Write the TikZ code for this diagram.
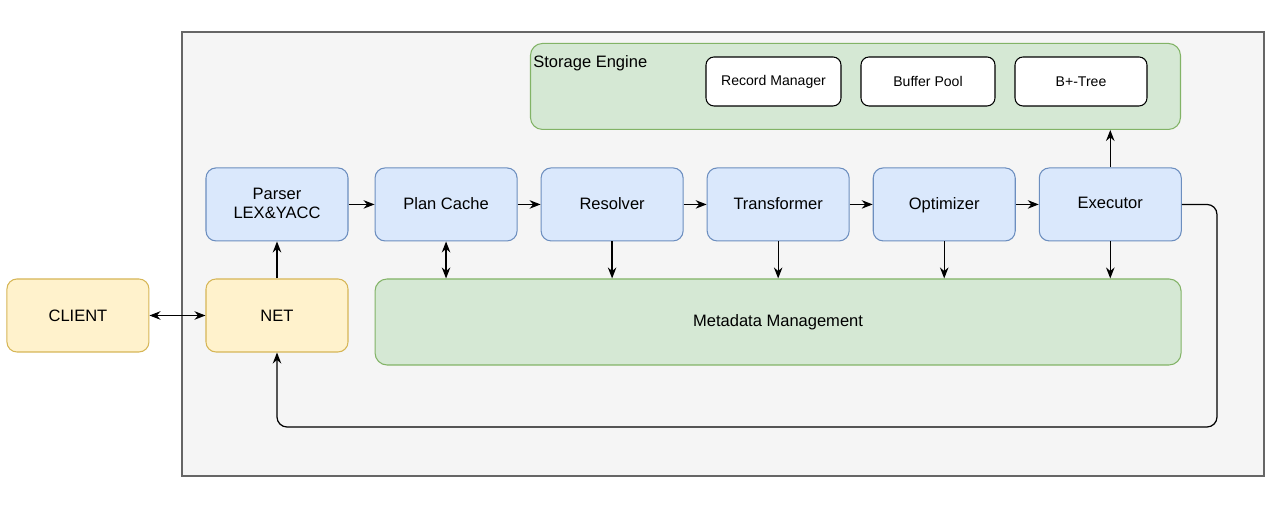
\documentclass[tikz,border=0pt]{standalone}
\usepackage{fontspec}
\setmainfont{Liberation Sans}
\usetikzlibrary{positioning, arrows.meta}
\definecolor{stagefill}{HTML}{DAE8FC}
\definecolor{stageline}{HTML}{6C8EBF}
\definecolor{ionfill}{HTML}{FFF2CC}
\definecolor{ionline}{HTML}{D6B656}
\definecolor{greenfill}{HTML}{D5E8D4}
\definecolor{greenline}{HTML}{82B366}
\definecolor{outerfill}{HTML}{F5F5F5}
\definecolor{outerline}{HTML}{666666}

\begin{document}
\begin{tikzpicture}[
    every node/.style={align=center, font=\fontsize{9.4}{11}\selectfont},
    box/.style={draw, line width=0.6pt, rounded corners=0.2cm, minimum width=2.84cm, minimum height=1.46cm},
    stage/.style={box, fill=stagefill, draw=stageline, text depth=0.3ex},
    io/.style={box, fill=ionfill, draw=ionline},
    area/.style={draw=greenline, fill=greenfill, line width=0.6pt, rounded corners=0.24cm, minimum height=1.72cm},
    part/.style={draw=black, fill=white, line width=0.6pt, rounded corners=0.16cm, minimum width=2.68cm, minimum height=0.98cm, font=\fontsize{8}{9}\selectfont},
    link/.style={line width=0.7pt, -{Stealth[length=2.2mm, width=1.7mm]}},
    both/.style={line width=0.7pt, {Stealth[length=2.2mm, width=1.7mm]}-{Stealth[length=2.2mm, width=1.7mm]}},
    node distance=0.46cm
]
\useasboundingbox (0,0) rectangle (25.42,10.26);
\draw[fill=outerfill, draw=outerline, line width=0.8pt] (3.64,0.74) rectangle (25.28,9.62);

\node[io] (net) at (5.54,3.95) {NET};
\node[io, left=1.12cm of net] (client) {CLIENT};
\node[stage, above=0.74cm of net] (parser) {Parser\\LEX\&YACC};
\node[stage, right=0.52cm of parser] (plancache) {Plan Cache};
\node[stage, right=of plancache] (resolver) {Resolver};
\node[stage, right=of resolver] (transformer) {Transformer};
\node[stage, right=of transformer] (optimizer) {Optimizer};
\node[stage, right=of optimizer] (executor) {Executor};

\node[area, minimum width=16.12cm, anchor=north west] (meta) at (plancache.west |- net.north) {Metadata Management};
\node[area, minimum width=13cm, anchor=south east] (storage) at (23.62,7.66) {};
\node[anchor=west, inner sep=0pt] (storagetitle) at (10.66,9.0) {Storage Engine};
\node[part, minimum width=2.7cm] (recordmgr) at (15.47,8.63) {Record Manager};
\node[part] (bufferpool) at (18.56,8.63) {Buffer Pool};
\node[part, minimum width=2.64cm] (bptree) at (21.62,8.63) {B+-Tree};

\draw[both] (client) -- (net);
\draw[link] (net) -- (parser);
\draw[link] (parser) -- (plancache);
\draw[link] (plancache) -- (resolver);
\draw[link] (resolver) -- (transformer);
\draw[link] (transformer) -- (optimizer);
\draw[link] (optimizer) -- (executor);
\draw[both] (plancache.south) -- (plancache.south |- meta.north);
\foreach \s in {resolver, transformer, optimizer, executor}
    \draw[link] (\s.south) -- (\s.south |- meta.north);
\draw[link] (executor.north) -- (executor.north |- storage.south);
\coordinate (back) at (24.34,1.72);
\draw[link, rounded corners=0.2cm] (executor.east) -| (back) -| (net.south);
\end{tikzpicture}
\end{document}
